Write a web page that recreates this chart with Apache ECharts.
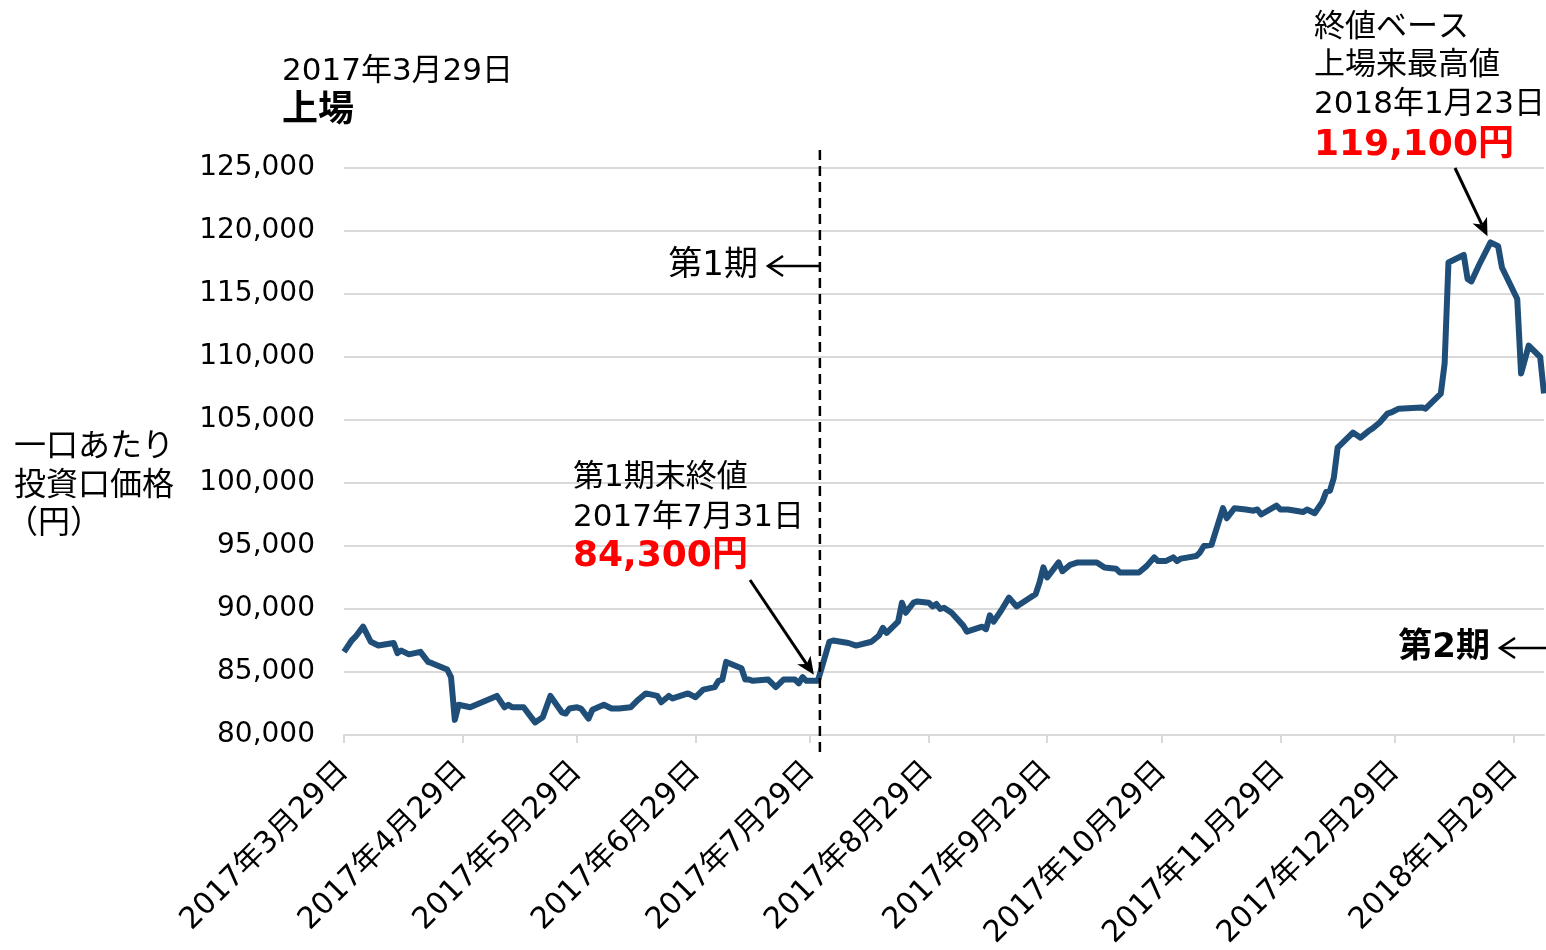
<!DOCTYPE html>
<html>
<head>
<meta charset="utf-8">
<script src="https://cdn.jsdelivr.net/npm/echarts@6/dist/echarts.min.js"></script>
<style>
  html, body { margin: 0; padding: 0; background: #fff; }
  #chart { width: 1546px; height: 950px; }
</style>
</head>
<body>
<div id="chart"></div>
<script>
// カテゴリ軸は暦日（土日も含む）
const startDate = '2017-03-29';
const endDate = '2018-02-06';

// 一口あたり投資口価格（終値、図から読み取り）
const priceDates = [
  '2017-03-29', '2017-03-31', '2017-04-01', '2017-04-03', '2017-04-05', '2017-04-07', '2017-04-11', '2017-04-12',
  '2017-04-13', '2017-04-15', '2017-04-18', '2017-04-20', '2017-04-21', '2017-04-25', '2017-04-26', '2017-04-27',
  '2017-04-28', '2017-05-01', '2017-05-08', '2017-05-10', '2017-05-11', '2017-05-12', '2017-05-15', '2017-05-17',
  '2017-05-18', '2017-05-20', '2017-05-22', '2017-05-25', '2017-05-26', '2017-05-27', '2017-05-29', '2017-05-30',
  '2017-06-01', '2017-06-02', '2017-06-05', '2017-06-07', '2017-06-09', '2017-06-12', '2017-06-14', '2017-06-16',
  '2017-06-19', '2017-06-20', '2017-06-22', '2017-06-23', '2017-06-27', '2017-06-29', '2017-07-01', '2017-07-04',
  '2017-07-05', '2017-07-06', '2017-07-07', '2017-07-11', '2017-07-12', '2017-07-13', '2017-07-14', '2017-07-18',
  '2017-07-20', '2017-07-22', '2017-07-25', '2017-07-26', '2017-07-27', '2017-07-28', '2017-07-31', '2017-08-03',
  '2017-08-04', '2017-08-08', '2017-08-10', '2017-08-14', '2017-08-16', '2017-08-17', '2017-08-18', '2017-08-21',
  '2017-08-22', '2017-08-23', '2017-08-25', '2017-08-26', '2017-08-29', '2017-08-30', '2017-08-31', '2017-09-01',
  '2017-09-02', '2017-09-04', '2017-09-07', '2017-09-08', '2017-09-10', '2017-09-12', '2017-09-13', '2017-09-14',
  '2017-09-15', '2017-09-17', '2017-09-19', '2017-09-21', '2017-09-23', '2017-09-26', '2017-09-27', '2017-09-28',
  '2017-09-29', '2017-10-02', '2017-10-03', '2017-10-05', '2017-10-07', '2017-10-11', '2017-10-12', '2017-10-14',
  '2017-10-17', '2017-10-18', '2017-10-23', '2017-10-25', '2017-10-27', '2017-10-28', '2017-10-30', '2017-11-01',
  '2017-11-02', '2017-11-03', '2017-11-07', '2017-11-08', '2017-11-09', '2017-11-11', '2017-11-14', '2017-11-15',
  '2017-11-17', '2017-11-20', '2017-11-22', '2017-11-23', '2017-11-24', '2017-11-28', '2017-11-29', '2017-12-01',
  '2017-12-05', '2017-12-06', '2017-12-08', '2017-12-10', '2017-12-11', '2017-12-12', '2017-12-13', '2017-12-14',
  '2017-12-16', '2017-12-18', '2017-12-20', '2017-12-22', '2017-12-23', '2017-12-25', '2017-12-27', '2017-12-28',
  '2017-12-30', '2018-01-05', '2018-01-06', '2018-01-10', '2018-01-11', '2018-01-12', '2018-01-16', '2018-01-17',
  '2018-01-18', '2018-01-20', '2018-01-23', '2018-01-25', '2018-01-26', '2018-01-30', '2018-01-31', '2018-02-02',
  '2018-02-05', '2018-02-06'
];
const priceValues = [
  86600, 87500, 87800, 88600, 87400, 87100, 87300, 86500,
  86700, 86400, 86600, 85800, 85700, 85200, 84600, 81200,
  82400, 82200, 83100, 82200, 82400, 82200, 82200, 81400,
  81000, 81400, 83100, 81800, 81700, 82100, 82200, 82100,
  81300, 82000, 82400, 82100, 82100, 82200, 82800, 83300,
  83100, 82600, 83100, 82900, 83300, 83000, 83600, 83800,
  84300, 84400, 85800, 85300, 84400, 84400, 84300, 84400,
  83800, 84400, 84400, 84100, 84600, 84300, 84300, 87400,
  87500, 87300, 87100, 87400, 87900, 88500, 88100, 89000,
  90500, 89700, 90500, 90600, 90500, 90200, 90400, 90000,
  90100, 89700, 88700, 88200, 88400, 88600, 88400, 89500,
  89000, 89900, 90900, 90200, 90600, 91200, 92100, 93300,
  92500, 93700, 93000, 93500, 93700, 93700, 93700, 93300,
  93200, 92900, 92900, 93400, 94100, 93800, 93800, 94100,
  93800, 94000, 94200, 94500, 95000, 95100, 98000, 97200,
  98000, 97900, 97800, 97900, 97500, 98200, 97900, 97900,
  97700, 97900, 97600, 98500, 99300, 99400, 100400, 102800,
  103400, 104000, 103600, 104100, 104300, 104800, 105500, 105600,
  105900, 106000, 105900, 107100, 109500, 117500, 118100, 116200,
  116000, 117300, 119100, 118800, 117100, 114600, 108700, 110900,
  110000, 107100
];

// 縦軸の目盛
const yMin = 80000;
const yMax = 125000;
const yStep = 5000;

// 注記
const period1Date = '2017-07-31';
const yAxisTitle = ['一口あたり', '投資口価格', '（円）'];
const listingNote = ['2017年3月29日', '上場'];
const period1Note = ['第1期末終値', '2017年7月31日', '84,300円'];
const highNote = ['終値ベース', '上場来最高値', '2018年1月23日', '119,100円'];

const FONT = "'DejaVu Sans', 'Noto Sans CJK JP', sans-serif";

function buildDays(from, to) {
  const out = [];
  let t = Date.parse(from + 'T00:00:00Z');
  const end = Date.parse(to + 'T00:00:00Z');
  while (t <= end) {
    out.push(new Date(t).toISOString().slice(0, 10));
    t += 86400000;
  }
  return out;
}

const days = buildDays(startDate, endDate);
const lineData = days.map(() => null);
priceDates.forEach((d, i) => { lineData[days.indexOf(d)] = priceValues[i]; });

function jpDate(v) {
  const p = v.split('-');
  return p[0] + '年' + (+p[1]) + '月' + (+p[2]) + '日';
}
const is29 = (idx, v) => v.slice(8) === '29';

const chart = echarts.init(document.getElementById('chart'));
const option = {
  animation: false,
  textStyle: { fontFamily: FONT },
  grid: { left: 344, right: 2, top: 168, bottom: 215, containLabel: false, outerBoundsMode: 'none' },
  xAxis: {
    type: 'category',
    boundaryGap: false,
    data: days,
    axisLine: { lineStyle: { color: '#d9d9d9', width: 2 } },
    axisTick: { show: true, interval: is29, length: 8, lineStyle: { color: '#d9d9d9', width: 2 } },
    axisLabel: {
      interval: is29,
      rotate: 45,
      margin: 32,
      color: '#000',
      fontSize: 30,
      fontFamily: FONT,
      formatter: jpDate
    },
    splitLine: { show: false }
  },
  yAxis: {
    type: 'value',
    min: yMin,
    max: yMax,
    interval: yStep,
    axisLine: { show: false },
    axisTick: { show: false },
    axisLabel: {
      color: '#000',
      fontSize: 28,
      fontFamily: FONT,
      margin: 29,
      formatter: v => v.toLocaleString('en-US')
    },
    splitLine: { lineStyle: { color: '#d9d9d9', width: 2 } }
  },
  series: [{
    type: 'line',
    data: lineData,
    connectNulls: true,
    showSymbol: false,
    symbol: 'none',
    lineStyle: { color: '#1F4E79', width: 6, join: 'round' }
  }]
};
chart.setOption(option);

// 注記（矢印・テキスト）
function txt(text, x, y, opts) {
  return {
    type: 'text',
    z: 100,
    style: Object.assign({
      text: text, x: x, y: y,
      fill: '#000', fontSize: 31, fontFamily: FONT,
      align: 'left', verticalAlign: 'middle'
    }, opts || {})
  };
}
function arrow(x1, y1, x2, y2) {
  const a = Math.atan2(y2 - y1, x2 - x1);
  const L = 18, W = 8, N = 13;
  const bx = x2 - L * Math.cos(a), by = y2 - L * Math.sin(a);
  const nx = x2 - N * Math.cos(a), ny = y2 - N * Math.sin(a);
  const px = -Math.sin(a), py = Math.cos(a);
  return [
    { type: 'line', z: 100, shape: { x1: x1, y1: y1, x2: nx, y2: ny }, style: { stroke: '#000', lineWidth: 3 } },
    { type: 'polygon', z: 100, shape: { points: [[x2, y2], [bx + px * W, by + py * W], [nx, ny], [bx - px * W, by - py * W]] }, style: { fill: '#000' } }
  ];
}
function leftArrow(x1, x2, y) {
  return [
    { type: 'line', z: 100, shape: { x1: x1, y1: y, x2: x2, y2: y }, style: { stroke: '#000', lineWidth: 2.5 } },
    { type: 'polyline', z: 100, shape: { points: [[x2 + 15, y - 10], [x2, y], [x2 + 15, y + 10]] }, style: { stroke: '#000', lineWidth: 2.5, fill: null } }
  ];
}

const i731 = priceDates.indexOf(period1Date);
const pEnd1 = chart.convertToPixel({ gridIndex: 0 }, [days.indexOf(period1Date), priceValues[i731]]);
const maxVal = Math.max.apply(null, priceValues);
const iMax = priceValues.indexOf(maxVal);
const pMax = chart.convertToPixel({ gridIndex: 0 }, [days.indexOf(priceDates[iMax]), maxVal]);
const xDiv = chart.convertToPixel({ gridIndex: 0 }, [days.indexOf(period1Date), yMin])[0] + 2;

const graphics = [
  { type: 'line', z: 90, shape: { x1: xDiv, y1: 150, x2: xDiv, y2: 755 }, style: { stroke: '#000', lineWidth: 2.5, lineDash: [10, 6] } },
  txt(listingNote[0], 282, 72),
  txt(listingNote[1], 282, 112, { fontWeight: 'bold', fontSize: 36 }),
  txt('第1期', 758, 266, { align: 'right', fontSize: 34 }),
  txt('第2期', 1490, 648, { align: 'right', fontWeight: 'bold', fontSize: 34 }),
  txt(yAxisTitle[0], 14, 448, { fontSize: 32 }),
  txt(yAxisTitle[1], 14, 487, { fontSize: 32 }),
  txt(yAxisTitle[2], 6, 525, { fontSize: 32 }),
  txt(period1Note[0], 573, 478),
  txt(period1Note[1], 573, 518),
  txt(period1Note[2], 573, 557, { fill: '#ff0000', fontWeight: 'bold', fontSize: 36 }),
  txt(highNote[0], 1314, 28),
  txt(highNote[1], 1314, 66),
  txt(highNote[2], 1314, 105),
  txt(highNote[3], 1314, 146, { fill: '#ff0000', fontWeight: 'bold', fontSize: 36 })
]
  .concat(leftArrow(xDiv, 768, 266))
  .concat(leftArrow(1546, 1500, 648))
  .concat(arrow(750, 580, pEnd1[0] - 4, pEnd1[1] - 6))
  .concat(arrow(1455, 168, pMax[0] - 3, pMax[1] - 6));

chart.setOption({ graphic: graphics });

window.addEventListener('resize', () => chart.resize());
</script>
</body>
</html>
